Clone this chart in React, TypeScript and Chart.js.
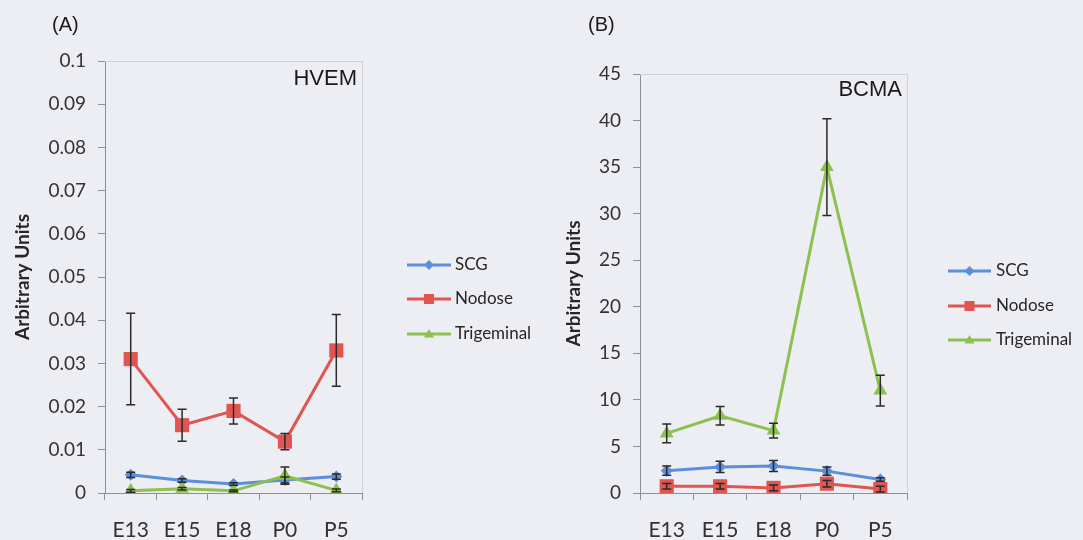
import React, { useEffect, useRef } from "react";
import { Chart, registerables } from "chart.js";

Chart.register(...registerables);

// ---------- data ----------
const categories = ["E13", "E15", "E18", "P0", "P5"];
const seriesNames = ["SCG", "Nodose", "Trigeminal"];

const hvemSCG = [0.0042, 0.0029, 0.0021, 0.003, 0.0038];
const hvemSCGErr = [0.0006, 0.0004, 0.0003, 0.0007, 0.0006];
const hvemNodose = [0.031, 0.0157, 0.019, 0.0119, 0.033];
const hvemNodoseErr = [0.0106, 0.0037, 0.003, 0.0019, 0.0083];
const hvemTrigeminal = [0.0005, 0.001, 0.0005, 0.004, 0.0006];
const hvemTrigeminalErr = [0.0003, 0.0003, 0.0002, 0.002, 0.0003];

const bcmaSCG = [2.4, 2.8, 2.9, 2.35, 1.45];
const bcmaSCGErr = [0.5, 0.6, 0.6, 0.45, 0.2];
const bcmaNodose = [0.72, 0.72, 0.55, 1.0, 0.42];
const bcmaNodoseErr = [0.3, 0.3, 0.3, 0.35, 0.3];
const bcmaTrigeminal = [6.4, 8.3, 6.7, 35.0, 11.0];
const bcmaTrigeminalErr = [1.0, 1.0, 0.8, 5.2, 1.65];

const hvemTickStep = 0.01;
const hvemMax = 0.1;
const bcmaTickStep = 5;
const bcmaMax = 45;

// ---------- styles ----------
const BG = "#ededf4";
const COLORS = ["#5b8fdc", "#e0554f", "#8cc04f"];
const POINT_STYLES = ["rectRot", "rect", "triangle"];
const POINT_RADII = [6, 10, 8];
const AXIS = "#8e8e96";
const FRAME = "#cfcfd8";
const TEXT = "#333333";
const FONT = "Lato, 'Open Sans', sans-serif";
const ARIAL = "'Liberation Sans', Arial, sans-serif";

function drawMarker(ctx: CanvasRenderingContext2D, style: string, x: number, y: number, r: number, color: string) {
  ctx.fillStyle = color;
  ctx.beginPath();
  if (style === "rectRot") {
    ctx.moveTo(x, y - r);
    ctx.lineTo(x + r, y);
    ctx.lineTo(x, y + r);
    ctx.lineTo(x - r, y);
  } else if (style === "rect") {
    ctx.rect(x - r, y - r, 2 * r, 2 * r);
  } else {
    ctx.moveTo(x, y - r);
    ctx.lineTo(x + r, y + r * 0.7);
    ctx.lineTo(x - r, y + r * 0.7);
  }
  ctx.closePath();
  ctx.fill();
}

type PanelProps = {
  left: number;
  width: number;
  panelLabel: string;
  panelLabelX: number;
  title: string;
  titleOffset: number;
  values: number[][];
  errors: number[][];
  yMax: number;
  yStep: number;
  decimals: number;
  area: { left: number; right: number; top: number; bottom: number };
  padLeft: number;
  legend: { lineX0: number; lineX1: number; textX: number; ys: number[] };
};

function Panel(p: PanelProps) {
  const ref = useRef<HTMLCanvasElement>(null);
  useEffect(() => {
    const canvas = ref.current!;
    const decor = {
      id: "decor",
      beforeDatasetsDraw(chart: any) {
        const { ctx, chartArea } = chart;
        ctx.save();
        ctx.strokeStyle = FRAME;
        ctx.lineWidth = 1;
        ctx.beginPath();
        ctx.moveTo(chartArea.left, chartArea.top + 0.5);
        ctx.lineTo(chartArea.right + 0.5, chartArea.top + 0.5);
        ctx.lineTo(chartArea.right + 0.5, chartArea.bottom);
        ctx.stroke();
        ctx.restore();
      },
      afterDatasetsDraw(chart: any) {
        const { ctx } = chart;
        const yScale = chart.scales.y;
        ctx.save();
        ctx.strokeStyle = "#2a2a2a";
        ctx.lineWidth = 1.5;
        chart.data.datasets.forEach((ds: any, i: number) => {
          const meta = chart.getDatasetMeta(i);
          meta.data.forEach((pt: any, j: number) => {
            const v = ds.data[j];
            const e = ds.errorBars[j];
            const yT = yScale.getPixelForValue(v + e);
            const yB = yScale.getPixelForValue(v - e);
            const x = pt.x;
            ctx.beginPath();
            ctx.moveTo(x, yT);
            ctx.lineTo(x, yB);
            ctx.moveTo(x - 4.5, yT);
            ctx.lineTo(x + 4.5, yT);
            ctx.moveTo(x - 4.5, yB);
            ctx.lineTo(x + 4.5, yB);
            ctx.stroke();
          });
        });
        ctx.restore();
      },
      afterDraw(chart: any) {
        const { ctx, chartArea } = chart;
        ctx.save();
        // panel label
        ctx.fillStyle = "#1a1a1a";
        ctx.font = `20px ${ARIAL}`;
        ctx.textAlign = "left";
        ctx.textBaseline = "middle";
        ctx.fillText(p.panelLabel, p.panelLabelX, 25);
        // title
        ctx.font = `22px ${ARIAL}`;
        ctx.textAlign = "right";
        ctx.fillText(p.title, chartArea.right - 5, chartArea.top + p.titleOffset);
        // legend
        ctx.font = `17px ${FONT}`;
        ctx.textAlign = "left";
        seriesNames.forEach((name, i) => {
          const y = p.legend.ys[i];
          ctx.strokeStyle = COLORS[i];
          ctx.lineWidth = 3;
          ctx.beginPath();
          ctx.moveTo(p.legend.lineX0, y);
          ctx.lineTo(p.legend.lineX1, y);
          ctx.stroke();
          drawMarker(ctx, POINT_STYLES[i], (p.legend.lineX0 + p.legend.lineX1) / 2, y, 5, COLORS[i]);
          ctx.fillStyle = "#262626";
          ctx.fillText(name, p.legend.textX, y);
        });
        ctx.restore();
      },
    };

    const chart = new Chart(canvas, {
      type: "line",
      data: {
        labels: categories,
        datasets: p.values.map((vals, i) => ({
          label: seriesNames[i],
          data: vals,
          errorBars: p.errors[i],
          borderColor: COLORS[i],
          backgroundColor: COLORS[i],
          borderWidth: 3,
          pointStyle: POINT_STYLES[i],
          pointRadius: POINT_RADII[i],
          pointBorderWidth: 0,
          pointBackgroundColor: COLORS[i],
          order: 2 - i,
          tension: 0,
        })) as any,
      },
      options: {
        responsive: false,
        animation: false,
        devicePixelRatio: 1,
        layout: {
          padding: { left: p.padLeft, top: p.area.top, right: p.width - p.area.right, bottom: 0 },
        },
        plugins: { legend: { display: false }, tooltip: { enabled: false } },
        scales: {
          x: {
            offset: true,
            grid: { display: true, drawOnChartArea: false, drawTicks: true, tickLength: 7, color: AXIS, offset: true },
            border: { color: AXIS, width: 1 },
            ticks: { color: TEXT, font: { family: FONT, size: 21 }, padding: 18 },
            afterFit: (s: any) => {
              s.height = 540 - p.area.bottom;
            },
          },
          y: {
            min: 0,
            max: p.yMax,
            ticks: {
              stepSize: p.yStep,
              color: TEXT,
              font: { family: FONT, size: 19 },
              padding: 12,
              callback: (v: any) => String(Number(Number(v).toFixed(p.decimals))),
            },
            grid: { display: true, drawOnChartArea: false, drawTicks: true, tickLength: 7, color: AXIS },
            border: { color: AXIS, width: 1 },
            title: {
              display: true,
              text: "Arbitrary Units",
              color: "#262626",
              font: { family: FONT, size: 19, weight: "bold" },
              padding: { top: 3, bottom: 0 },
            },
            afterFit: (s: any) => {
              s.width = p.area.left - p.padLeft;
            },
          },
        },
      } as any,
      plugins: [decor],
    });
    return () => chart.destroy();
  }, []);
  return (
    <canvas
      ref={ref}
      width={p.width}
      height={540}
      style={{ position: "absolute", left: p.left, top: 0, width: p.width, height: 540 }}
    />
  );
}

export default function App() {
  return (
    <div style={{ position: "absolute", left: 0, top: 0, width: 1083, height: 540, background: BG, overflow: "hidden" }}>
      <Panel
        left={0}
        width={541}
        panelLabel="(A)"
        panelLabelX={52}
        title="HVEM"
        titleOffset={18}
        values={[hvemSCG, hvemNodose, hvemTrigeminal]}
        errors={[hvemSCGErr, hvemNodoseErr, hvemTrigeminalErr]}
        yMax={hvemMax}
        yStep={hvemTickStep}
        decimals={2}
        area={{ left: 105, right: 362, top: 61, bottom: 493 }}
        padLeft={8}
        legend={{ lineX0: 407, lineX1: 451, textX: 455, ys: [265, 299, 334] }}
      />
      <Panel
        left={541}
        width={542}
        panelLabel="(B)"
        panelLabelX={47}
        title="BCMA"
        titleOffset={16}
        values={[bcmaSCG, bcmaNodose, bcmaTrigeminal]}
        errors={[bcmaSCGErr, bcmaNodoseErr, bcmaTrigeminalErr]}
        yMax={bcmaMax}
        yStep={bcmaTickStep}
        decimals={0}
        area={{ left: 99, right: 366, top: 74, bottom: 493 }}
        padLeft={18}
        legend={{ lineX0: 407, lineX1: 450, textX: 455, ys: [271, 306, 340] }}
      />
    </div>
  );
}
